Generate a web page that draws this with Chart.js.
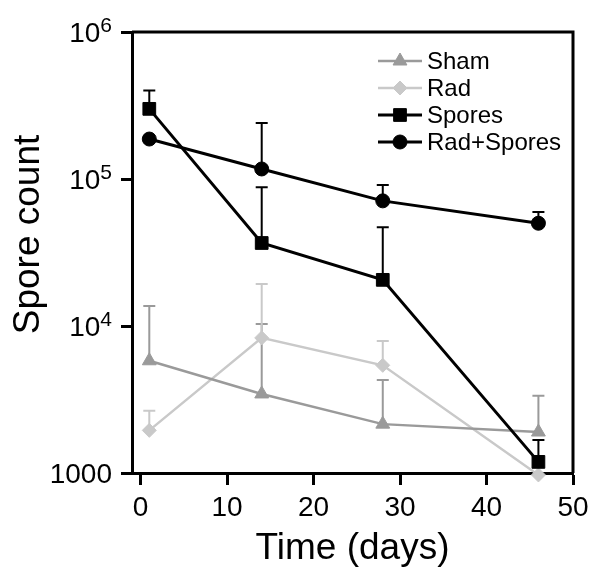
<!DOCTYPE html>
<html>
<head>
<meta charset="utf-8">
<script src="https://cdn.jsdelivr.net/npm/chart.js@4.4.0/dist/chart.umd.min.js"></script>
<style>
    html, body { margin: 0; padding: 0; background: #fff; }
    #wrap { width: 602px; height: 582px; }
</style>
</head>
<body>
<div id="wrap"><canvas id="sporeChart" width="602" height="582"></canvas></div>
<script>
// Data
const days = [1, 14, 28, 46];
const sham = [5800, 3450, 2150, 1900];
const shamUpper = [13700, 10300, 4300, 3350];
const rad = [1950, 8300, 5400, 970];
const radUpper = [2650, 19300, 7900, null];
const spores = [300000, 36700, 20600, 1190];
const sporesUpper = [400000, 88000, 47000, 1680];
const radSpores = [187000, 117000, 71000, 50000];
const radSporesUpper = [null, 240000, 91000, 59700];

const xTicks = [0, 10, 20, 30, 40, 50];
const yTicks = [1000, 10000, 100000, 1000000];
const yTickBase = ['1000', '10', '10', '10'];
const yTickExp = ['', '4', '5', '6'];
const yTitle = 'Spore count';

const FONT = '"Liberation Sans", Arial, sans-serif';

const toPoints = values => days.map((d, i) => ({ x: d, y: values[i] }));

// upper-only error bars, drawn under the markers
const errorBars = {
    id: 'errorBars',
    beforeDatasetsDraw(chart) {
        const { ctx, scales: { x, y } } = chart;
        chart.data.datasets.forEach(ds => {
            if (!ds.errUpper) return;
            ctx.save();
            ctx.strokeStyle = ds.borderColor;
            ctx.lineWidth = 2;
            ds.data.forEach((pt, i) => {
                const top = ds.errUpper[i];
                if (top == null) return;
                const px = x.getPixelForValue(pt.x);
                const py = y.getPixelForValue(pt.y);
                const pt2 = y.getPixelForValue(top);
                ctx.beginPath();
                ctx.moveTo(px, py);
                ctx.lineTo(px, pt2);
                ctx.moveTo(px - 6, pt2);
                ctx.lineTo(px + 6, pt2);
                ctx.stroke();
            });
            ctx.restore();
        });
    }
};

// closed box around the plot, power-of-ten tick labels, y title
const frame = {
    id: 'frame',
    afterDraw(chart) {
        const { ctx, chartArea: a, scales: { y } } = chart;
        ctx.save();
        ctx.strokeStyle = '#000';
        ctx.lineWidth = 3;
        ctx.beginPath();
        ctx.moveTo(a.left, a.top);
        ctx.lineTo(a.right, a.top);
        ctx.lineTo(a.right, a.bottom);
        ctx.stroke();

        ctx.fillStyle = '#000';
        ctx.textAlign = 'right';
        ctx.textBaseline = 'alphabetic';
        const right = a.left - 20;
        yTicks.forEach((v, i) => {
            const py = y.getPixelForValue(v);
            ctx.font = '21px ' + FONT;
            const expW = yTickExp[i] ? ctx.measureText(yTickExp[i]).width : 0;
            if (yTickExp[i]) ctx.fillText(yTickExp[i], right, py);
            ctx.font = '28px ' + FONT;
            ctx.fillText(yTickBase[i], right - expW, py + 10);
        });

        // axis title sits a little above the plot centre in the original
        ctx.translate(29, (a.top + a.bottom) / 2 - 18);
        ctx.rotate(-Math.PI / 2);
        ctx.textAlign = 'center';
        ctx.textBaseline = 'middle';
        ctx.font = '37px ' + FONT;
        ctx.fillText(yTitle, 0, 0);
        ctx.restore();
    }
};

// legend inside the plot, top right
const boxLegend = {
    id: 'boxLegend',
    afterDraw(chart) {
        const { ctx, chartArea: a } = chart;
        chart.data.datasets.forEach((ds, i) => {
            const y = a.top + 29 + i * 27;
            const x0 = a.left + 246;
            ctx.save();
            ctx.strokeStyle = ds.borderColor;
            ctx.lineWidth = ds.borderWidth;
            ctx.beginPath();
            ctx.moveTo(x0, y);
            ctx.lineTo(x0 + 44, y);
            ctx.stroke();
            ctx.fillStyle = ds.pointBackgroundColor;
            ctx.strokeStyle = ds.borderColor;
            ctx.lineWidth = 1;
            Chart.helpers.drawPoint(ctx, {
                pointStyle: ds.pointStyle,
                radius: ds.pointRadius,
                borderWidth: 1,
                rotation: 0
            }, x0 + 22, y);
            ctx.fillStyle = '#000';
            ctx.font = '24px ' + FONT;
            ctx.textBaseline = 'middle';
            ctx.textAlign = 'left';
            ctx.fillText(ds.label, x0 + 49, y + 1);
            ctx.restore();
        });
    }
};

function series(label, values, upper, color, style, radius, width, order) {
    return {
        label: label,
        data: toPoints(values),
        errUpper: upper,
        borderColor: color,
        backgroundColor: color,
        pointBackgroundColor: color,
        pointBorderColor: color,
        pointBorderWidth: 1,
        pointStyle: style,
        pointRadius: radius,
        pointHoverRadius: radius,
        borderWidth: width,
        tension: 0,
        clip: false,
        order: order
    };
}

const ctx = document.getElementById('sporeChart').getContext('2d');
new Chart(ctx, {
    type: 'line',
    data: {
        datasets: [
            series('Sham', sham, shamUpper, '#9a9a9a', 'triangle', 8, 2.5, 2),
            series('Rad', rad, radUpper, '#c9c9c9', 'rectRot', 7, 2.5, 2),
            series('Spores', spores, sporesUpper, '#000000', 'rect', 9, 3, 1),
            series('Rad+Spores', radSpores, radSporesUpper, '#000000', 'circle', 7, 3, 0)
        ]
    },
    options: {
        responsive: false,
        animation: false,
        devicePixelRatio: 1,
        layout: {
            padding: { top: 32, right: 29, left: 0, bottom: 0 }
        },
        plugins: {
            legend: { display: false },
            tooltip: { enabled: false }
        },
        scales: {
            x: {
                type: 'linear',
                min: -1,
                max: 50,
                afterBuildTicks: scale => {
                    scale.ticks = xTicks.map(v => ({ value: v }));
                },
                afterFit: scale => {
                    scale.height = 109;
                },
                grid: {
                    drawOnChartArea: false,
                    drawTicks: true,
                    tickLength: 12,
                    tickWidth: 3,
                    tickColor: '#000'
                },
                border: { display: true, color: '#000', width: 3 },
                ticks: {
                    color: '#000',
                    padding: 6,
                    maxRotation: 0,
                    font: { size: 28, family: FONT }
                },
                title: {
                    display: true,
                    text: 'Time (days)',
                    color: '#000',
                    font: { size: 37, family: FONT },
                    padding: { top: 0, bottom: 11 }
                }
            },
            y: {
                type: 'logarithmic',
                min: 1000,
                max: 1000000,
                afterBuildTicks: scale => {
                    scale.ticks = yTicks.map(v => ({ value: v }));
                },
                afterFit: scale => {
                    scale.width = 132;
                },
                grid: {
                    drawOnChartArea: false,
                    drawTicks: true,
                    tickLength: 11,
                    tickWidth: 3,
                    tickColor: '#000'
                },
                border: { display: true, color: '#000', width: 3 },
                ticks: { display: false },
                title: { display: false }
            }
        }
    },
    plugins: [errorBars, frame, boxLegend]
});
</script>
</body>
</html>
